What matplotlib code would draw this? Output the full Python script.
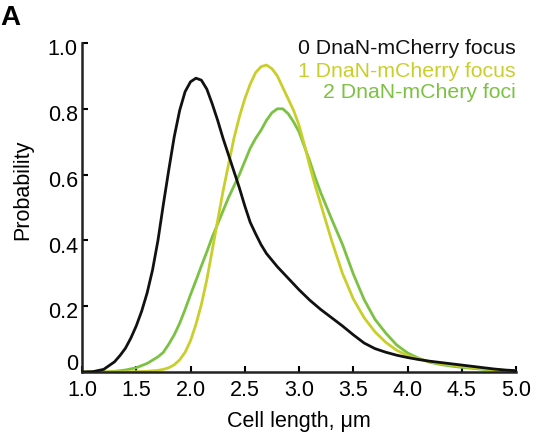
import numpy as np
import matplotlib
matplotlib.use('Agg')
from matplotlib import pyplot as plt
import matplotlib.transforms as mtransforms

plt.rcParams['font.family'] = ['Liberation Sans', 'DejaVu Sans']

# cell length (um) and probability for 0, 1 and 2 DnaN-mCherry foci
len0 = [1.0, 1.1, 1.2, 1.3, 1.35, 1.4, 1.45, 1.5, 1.55, 1.6, 1.65, 1.7, 1.75,
        1.8, 1.85, 1.9, 1.95, 2.0, 2.05, 2.1, 2.15, 2.2, 2.25, 2.3, 2.35, 2.4,
        2.45, 2.5, 2.55, 2.6, 2.65, 2.7, 2.8, 2.9, 3.0, 3.1, 3.2, 3.3, 3.4, 3.5,
        3.6, 3.7, 3.8, 3.9, 4.0, 4.1, 4.2, 4.3, 4.4, 4.5, 4.6, 4.7, 4.8, 4.9,
        5.0]
foci0 = [0.0, 0.001, 0.008, 0.031, 0.05, 0.072, 0.103, 0.14, 0.185, 0.24,
         0.31, 0.40, 0.51, 0.615, 0.715, 0.795, 0.852, 0.882, 0.893, 0.887,
         0.86, 0.815, 0.765, 0.71, 0.66, 0.61, 0.56, 0.505, 0.455, 0.42, 0.387,
         0.36, 0.32, 0.285, 0.25, 0.218, 0.19, 0.165, 0.14, 0.113, 0.088,
         0.071, 0.06, 0.051, 0.044, 0.038, 0.033, 0.029, 0.025, 0.021, 0.017,
         0.013, 0.009, 0.006, 0.004]

len1 = [1.0, 1.5, 1.6, 1.7, 1.75, 1.8, 1.85, 1.9, 1.95, 2.0, 2.05, 2.1, 2.15,
        2.2, 2.25, 2.3, 2.35, 2.4, 2.45, 2.5, 2.55, 2.6, 2.65, 2.7, 2.75, 2.8,
        2.85, 2.9, 2.95, 3.0, 3.05, 3.1, 3.15, 3.2, 3.3, 3.4, 3.5, 3.6, 3.7,
        3.8, 3.9, 4.0, 4.1, 4.2, 4.3, 4.4, 4.5, 4.6, 4.7, 4.8, 4.9, 5.0]
foci1 = [0.0, 0.001, 0.002, 0.005, 0.008, 0.013, 0.022, 0.037, 0.06, 0.095,
         0.145, 0.205, 0.28, 0.37, 0.46, 0.55, 0.63, 0.71, 0.775, 0.83, 0.875,
         0.91, 0.928, 0.933, 0.922, 0.90, 0.865, 0.83, 0.795, 0.75, 0.69, 0.625,
         0.565, 0.51, 0.40, 0.30, 0.222, 0.165, 0.122, 0.09, 0.066, 0.05, 0.04,
         0.032, 0.026, 0.021, 0.017, 0.013, 0.01, 0.007, 0.005, 0.003]

len2 = [1.0, 1.2, 1.3, 1.4, 1.5, 1.6, 1.7, 1.75, 1.8, 1.85, 1.9, 1.95, 2.0,
        2.05, 2.1, 2.15, 2.2, 2.25, 2.3, 2.35, 2.4, 2.45, 2.5, 2.55, 2.6, 2.65,
        2.7, 2.75, 2.8, 2.85, 2.9, 2.95, 3.0, 3.05, 3.1, 3.15, 3.2, 3.3, 3.4,
        3.5, 3.6, 3.7, 3.8, 3.9, 4.0, 4.1, 4.2, 4.3, 4.4, 4.5, 4.6, 4.7, 4.8,
        4.9, 5.0]
foci2 = [0.0, 0.0, 0.002, 0.006, 0.013, 0.026, 0.046, 0.06, 0.085, 0.113,
         0.148, 0.19, 0.235, 0.278, 0.322, 0.365, 0.41, 0.45, 0.49, 0.53, 0.565,
         0.60, 0.64, 0.68, 0.71, 0.735, 0.765, 0.788, 0.80, 0.80, 0.785, 0.76,
         0.73, 0.685, 0.64, 0.59, 0.545, 0.465, 0.388, 0.298, 0.22, 0.16, 0.118,
         0.082, 0.058, 0.042, 0.03, 0.023, 0.018, 0.014, 0.011, 0.008, 0.006,
         0.004, 0.003]

labels = ['0 DnaN-mCherry focus', '1 DnaN-mCherry focus', '2 DnaN-mChery foci']
colors = ['#111111', '#c9cf2a', '#7cc242']

xticks = [1.0, 1.5, 2.0, 2.5, 3.0, 3.5, 4.0, 4.5, 5.0]
xticklabels = ['1.0', '1.5', '2.0', '2.5', '3.0', '3.5', '4.0', '4.5', '5.0']
yticks = [0, 0.2, 0.4, 0.6, 0.8, 1.0]
yticklabels = ['0', '0.2', '0.4', '0.6', '0.8', '1.0']

fig = plt.figure(figsize=(5.37, 4.32), dpi=100)
ax = fig.add_axes([0.1527, 0.1389, 0.8083, 0.7616])

ax.plot(len0, foci0, color=colors[0], lw=2.0, zorder=3)
ax.plot(len2, foci2, color=colors[2], lw=2.0, zorder=2)
ax.plot(len1, foci1, color=colors[1], lw=2.0, zorder=2)

ax.set_xlim(1.0, 5.0)
ax.set_ylim(0, 1.0)
ax.set_xticks(xticks)
ax.set_xticklabels(xticklabels)
ax.set_yticks(yticks)
ax.set_yticklabels(yticklabels)
ax.tick_params(direction='in', length=4, width=1.5, labelsize=15.5)
ax.tick_params(axis='x', pad=6)
ax.tick_params(axis='y', pad=3)

# nudge y tick labels: the zero sits above its tick, the rest a bit below
for lab, val in zip(ax.get_yticklabels(), yticks):
    dy = 7 / 72 if val == 0 else -3 / 72
    lab.set_transform(lab.get_transform() +
                      mtransforms.ScaledTranslation(0, dy, fig.dpi_scale_trans))

for side in ['top', 'right']:
    ax.spines[side].set_visible(False)
for side in ['left', 'bottom']:
    ax.spines[side].set_linewidth(1.8)
    ax.spines[side].set_color('#222222')

ax.set_xlabel('Cell length, \u03bcm', fontsize=15.5, labelpad=7)
ax.set_ylabel('Probability', fontsize=15.5)
ax.yaxis.set_label_coords(-0.113, 0.553)

# text legend in the upper right corner
ypos = [0.887, 0.834, 0.787]
for lab, col, yy in zip(labels, colors, ypos):
    fig.text(0.961, yy, lab, color=col, fontsize=15.3, ha='right', va='center')

fig.text(0.0, 0.958, 'A', fontsize=20, fontweight='bold', ha='left', va='center')

plt.savefig('out.png', dpi=100)
